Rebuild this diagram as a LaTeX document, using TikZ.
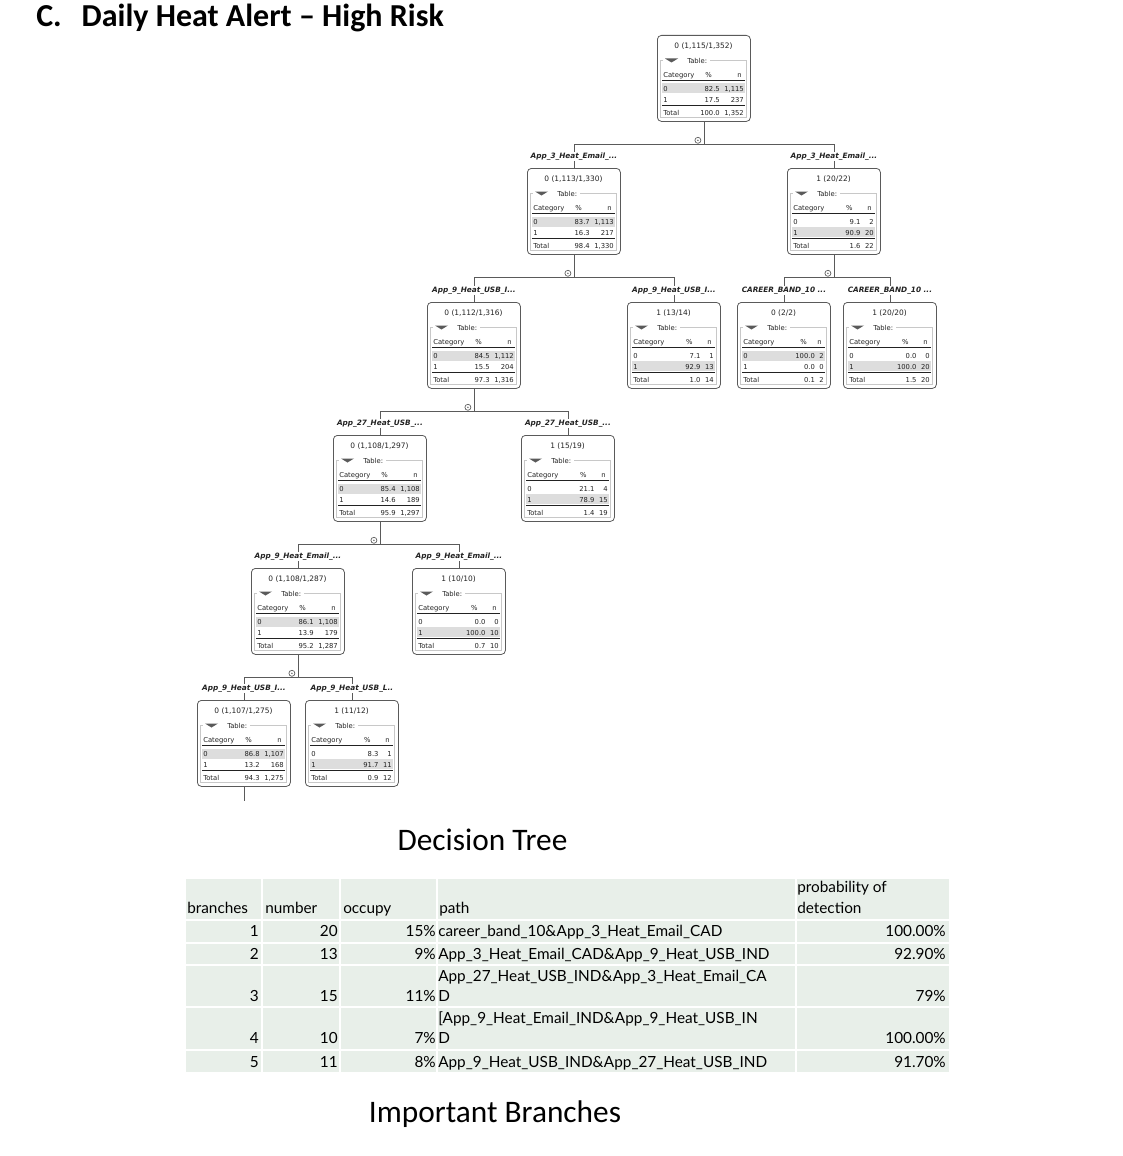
\documentclass[tikz,border=0pt]{standalone}
\usepackage{fontspec}
\setmainfont{Carlito}
\newfontfamily\treefont{DejaVu Sans}[BoldFont={DejaVu Sans Bold},ItalicFont={DejaVu Sans Oblique},BoldItalicFont={DejaVu Sans Bold Oblique}]
\newfontfamily\tablefont{Lato}
\usetikzlibrary{positioning,calc}

\definecolor{boxgray}{HTML}{5A5A5A}
\definecolor{framegray}{HTML}{C8C8C8}
\definecolor{rowshade}{HTML}{DDDDDD}
\definecolor{tablegreen}{HTML}{E8EFE9}
\definecolor{inkgray}{HTML}{222222}

\tikzset{
  treebox/.style={draw=boxgray, line width=0.6pt, rounded corners=3pt, minimum width=69.75pt, minimum height=64.5pt, inner sep=0pt, anchor=north west},
  boxtitle/.style={font=\treefont\fontsize{5.6}{6}\selectfont, inner sep=0pt, text=inkgray},
  cell/.style={font=\treefont\fontsize{5.1}{6}\selectfont, inner sep=0pt, text=inkgray},
  splitlabel/.style={font=\treefont\bfseries\itshape\fontsize{5.5}{6}\selectfont, fill=white, inner sep=1pt, text=inkgray},
  collapse/.style={circle, draw=boxgray, line width=0.5pt, minimum size=4.5pt, inner sep=0pt, fill=white,
    path picture={\fill[boxgray] (path picture bounding box.center) circle (0.6pt);}},
  edge/.style={draw=boxgray, line width=0.6pt},
  rule/.style={draw=inkgray, line width=0.5pt},
  tabtext/.style={font=\tablefont\fontsize{11.5}{14}\selectfont, inner sep=0pt},
  tabcell/.style={fill=tablegreen, draw=white, line width=1.5pt},
}

% one tree node: name, top-left, title, % and n of class 0, class 1, total
\newcommand{\treenode}[9]{%
  \node[treebox] (#1) at #2 {};
  \pgfmathtruncatemacro{\hlrow}{(#4>#6) ? 0 : 1}%
  \fill[rowshade] ($(#1.north west)+(5,48.5+10.5*\hlrow)$) rectangle ($(#1.north west)+(88,58.5+10.5*\hlrow)$);
  \draw[framegray, line width=0.5pt] ($(#1.north west)+(3.5,25)$) rectangle ($(#1.north west)+(89.5,82)$);
  \fill[white] ($(#1.north west)+(6,22)$) rectangle ($(#1.north west)+(53,28)$);
  \fill[boxgray] ($(#1.north west)+(8,23.5)$) -- ++(13,0) -- ++(-6.5,4) -- cycle;
  \node[cell, anchor=mid west] (#1-tab) at ($(#1.north west)+(30,25)$) {Table:};
  \node[boxtitle] (#1-title) at ($(#1.north west)+(46.5,11)$) {#3};
  \node[cell, anchor=mid west] (#1-cat) at ($(#1.north west)+(6,39)$) {Category};
  \node[cell, anchor=mid east] (#1-n) at ($(#1.north west)+(85,39)$) {n};
  \draw[rule] ($(#1.north west)+(5,45.5)$) -- ++(83,0);
  \node[cell, anchor=mid west] (#1-c0) at ($(#1.north west)+(6,53)$) {0};
  \node[cell, anchor=mid east] (#1-n0) at ($(#1.north west)+(87,53)$) {#5};
  \node[cell, anchor=mid west] (#1-c1) at ($(#1.north west)+(6,64)$) {1};
  \node[cell, anchor=mid east] (#1-n1) at ($(#1.north west)+(87,64)$) {#7};
  \draw[rule, line width=0.8pt] ($(#1.north west)+(5,70.5)$) -- ++(83,0);
  \node[cell, anchor=mid west] (#1-ct) at ($(#1.north west)+(6,77)$) {Total};
  \node[cell, anchor=mid east] (#1-nt) at ($(#1.north west)+(87,77)$) {#9};
  \node[cell, anchor=mid east] (#1-pt) at ($(#1-nt.mid west)+(-4,0)$) {#8};
  \node[cell, anchor=mid east] (#1-p1) at ($(#1-nt.mid west)+(-4,-13)$) {#6};
  \node[cell, anchor=mid east] (#1-p0) at ($(#1-nt.mid west)+(-4,-24)$) {#4};
  \node[cell, anchor=mid east] (#1-pct) at ($(#1-nt.mid west)+(-12,-38)$) {\%};
}

\begin{document}
\begin{tikzpicture}[x=0.75pt, y=-0.75pt]
\useasboundingbox (0,0) rectangle (1122,1156);

\node[font=\bfseries\fontsize{24}{28}\selectfont, anchor=base west, inner sep=0pt] (title) at (36,27) {C.\hspace{15pt}Daily Heat Alert – High Risk};

% tree nodes
\treenode{n0}{(657,35)}{0 (1,115/1,352)}{82.5}{1,115}{17.5}{237}{100.0}{1,352}
\treenode{n1}{(527,168)}{0 (1,113/1,330)}{83.7}{1,113}{16.3}{217}{98.4}{1,330}
\treenode{n2}{(787,168)}{1 (20/22)}{9.1}{2}{90.9}{20}{1.6}{22}
\treenode{n3}{(427,302)}{0 (1,112/1,316)}{84.5}{1,112}{15.5}{204}{97.3}{1,316}
\treenode{n4}{(627,302)}{1 (13/14)}{7.1}{1}{92.9}{13}{1.0}{14}
\treenode{n5}{(737,302)}{0 (2/2)}{100.0}{2}{0.0}{0}{0.1}{2}
\treenode{n6}{(843,302)}{1 (20/20)}{0.0}{0}{100.0}{20}{1.5}{20}
\treenode{n7}{(333,435)}{0 (1,108/1,297)}{85.4}{1,108}{14.6}{189}{95.9}{1,297}
\treenode{n8}{(521,435)}{1 (15/19)}{21.1}{4}{78.9}{15}{1.4}{19}
\treenode{n9}{(251,568)}{0 (1,108/1,287)}{86.1}{1,108}{13.9}{179}{95.2}{1,287}
\treenode{n10}{(412,568)}{1 (10/10)}{0.0}{0}{100.0}{10}{0.7}{10}
\treenode{n11}{(197,700)}{0 (1,107/1,275)}{86.8}{1,107}{13.2}{168}{94.3}{1,275}
\treenode{n12}{(305,700)}{1 (11/12)}{8.3}{1}{91.7}{11}{0.9}{12}

% splits
\foreach \p/\a/\b in {n0/n1/n2, n1/n3/n4, n2/n5/n6, n3/n7/n8, n7/n9/n10, n9/n11/n12}{
  \coordinate (s-\p) at ($(\p.south)+(0,23)$);
  \draw[edge] (\p.south) -- (s-\p) -| (\a.north);
  \draw[edge] (s-\p) -| (\b.north);
  \node[collapse] (c-\p) at ($(\p.south)+(-6,18.5)$) {};
}
\coordinate (t-n11) at ($(n11.south)+(0,14)$);
\draw[edge] (n11.south) -- (t-n11);

% split labels
\node[splitlabel] (l1) at ($(n1.north)+(0,-11.5)$) {App\_3\_Heat\_Email\_...};
\node[splitlabel] (l2) at ($(n2.north)+(0,-11.5)$) {App\_3\_Heat\_Email\_...};
\node[splitlabel] (l3) at ($(n3.north)+(0,-11.5)$) {App\_9\_Heat\_USB\_I...};
\node[splitlabel] (l4) at ($(n4.north)+(0,-11.5)$) {App\_9\_Heat\_USB\_I...};
\node[splitlabel] (l5) at ($(n5.north)+(0,-11.5)$) {CAREER\_BAND\_10 ...};
\node[splitlabel] (l6) at ($(n6.north)+(0,-11.5)$) {CAREER\_BAND\_10 ...};
\node[splitlabel] (l7) at ($(n7.north)+(0,-11.5)$) {App\_27\_Heat\_USB\_...};
\node[splitlabel] (l8) at ($(n8.north)+(0,-11.5)$) {App\_27\_Heat\_USB\_...};
\node[splitlabel] (l9) at ($(n9.north)+(0,-11.5)$) {App\_9\_Heat\_Email\_...};
\node[splitlabel] (l10) at ($(n10.north)+(0,-11.5)$) {App\_9\_Heat\_Email\_...};
\node[splitlabel] (l11) at ($(n11.north)+(0,-11.5)$) {App\_9\_Heat\_USB\_I...};
\node[splitlabel] (l12) at ($(n12.north)+(0,-11.5)$) {App\_9\_Heat\_USB\_L..};

\node[font=\fontsize{23.5}{28}\selectfont, anchor=base, inner sep=0pt] (treecap) at (482.5,850) {Decision Tree};

% branches table
\foreach \xa/\xb in {185/262,262/340,340/437,437/796,796/950}
  \foreach \ya/\yb in {878/920,920/943,943/965,965/1007,1007/1050,1050/1073}
    \draw[tabcell] (\xa,\ya) rectangle (\xb,\yb);

\node[tabtext, anchor=base west] (h-branch) at (187,913) {branches};
\node[tabtext, anchor=base west] (h-number) at (265,913) {number};
\node[tabtext, anchor=base west] (h-occupy) at (343,913) {occupy};
\node[tabtext, anchor=base west] (h-path) at (439,913) {path};
\node[tabtext, anchor=base west] (h-prob) at (797,892) {probability of};
\node[tabtext, anchor=base west] (h-det) at (797,913) {detection};

\foreach \b/\n/\o/\pr/\yy in {1/20/15/100.00/936, 2/13/9/92.90/959, 3/15/11/79/1001, 4/10/7/100.00/1043, 5/11/8/91.70/1067}{
  \node[tabtext, anchor=base east] (b\b) at (259,\yy) {\b};
  \node[tabtext, anchor=base east] (num\b) at (338,\yy) {\n};
  \node[tabtext, anchor=base east] (occ\b) at (436,\yy) {\o\%};
  \node[tabtext, anchor=base east] (prob\b) at (946,\yy) {\pr\%};
}
\node[tabtext, anchor=base west] (path1) at (438,936) {career\_band\_10\&App\_3\_Heat\_Email\_CAD};
\node[tabtext, anchor=base west] (path2) at (438,959) {App\_3\_Heat\_Email\_CAD\&App\_9\_Heat\_USB\_IND};
\node[tabtext, anchor=base west] (path3a) at (438,981) {App\_27\_Heat\_USB\_IND\&App\_3\_Heat\_Email\_CA};
\node[tabtext, anchor=base west] (path3b) at (438,1001) {D};
\node[tabtext, anchor=base west] (path4a) at (438,1023) {[App\_9\_Heat\_Email\_IND\&App\_9\_Heat\_USB\_IN};
\node[tabtext, anchor=base west] (path4b) at (438,1043) {D};
\node[tabtext, anchor=base west] (path5) at (438,1067) {App\_9\_Heat\_USB\_IND\&App\_27\_Heat\_USB\_IND};

\node[font=\fontsize{23.5}{28}\selectfont, anchor=base, inner sep=0pt] (tabcap) at (495,1122) {Important Branches};
\end{tikzpicture}
\end{document}
